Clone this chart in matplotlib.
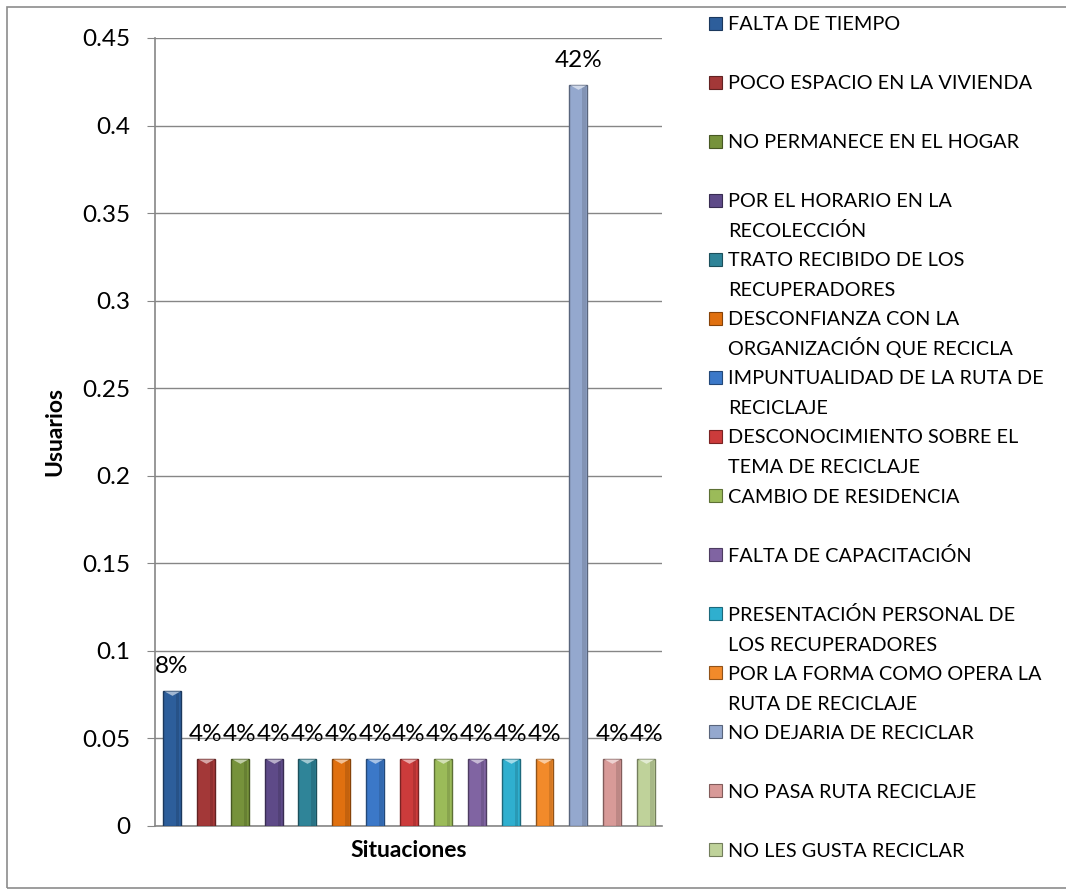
import matplotlib.pyplot as plt
from matplotlib.patches import Rectangle
from matplotlib.path import Path
from matplotlib.colors import to_rgb

plt.rcParams['font.family'] = ['Lato', 'DejaVu Sans']

# datos: usuarios por situacion (n = 26)
situaciones = ["FALTA DE TIEMPO", "POCO ESPACIO EN LA VIVIENDA", "NO PERMANECE EN EL HOGAR",
               "POR EL HORARIO EN LA\nRECOLECCIÓN", "TRATO RECIBIDO DE LOS\nRECUPERADORES",
               "DESCONFIANZA CON LA\nORGANIZACIÓN QUE RECICLA", "IMPUNTUALIDAD DE LA RUTA DE\nRECICLAJE",
               "DESCONOCIMIENTO SOBRE EL\nTEMA DE RECICLAJE", "CAMBIO DE RESIDENCIA",
               "FALTA DE CAPACITACIÓN", "PRESENTACIÓN PERSONAL DE\nLOS RECUPERADORES",
               "POR LA FORMA COMO OPERA LA\nRUTA DE RECICLAJE", "NO DEJARIA DE RECICLAR",
               "NO PASA RUTA RECICLAJE", "NO LES GUSTA RECICLAR"]
usuarios = [0.0769, 0.0385, 0.0385, 0.0385, 0.0385, 0.0385, 0.0385, 0.0385,
            0.0385, 0.0385, 0.0385, 0.0385, 0.4231, 0.0385, 0.0385]
etiquetas = ["8%", "4%", "4%", "4%", "4%", "4%", "4%", "4%", "4%", "4%", "4%", "4%", "42%", "4%", "4%"]
colores = ["#2D5E9B", "#A33838", "#76923B", "#5E4A88", "#2F8498", "#E0700F", "#3B78C8",
           "#CC3B3B", "#9BBB59", "#8064A2", "#2FAFCF", "#F28A2A", "#94A8CE", "#D89A98", "#BFD29A"]
y_ticks = [0, 0.05, 0.1, 0.15, 0.2, 0.25, 0.3, 0.35, 0.4, 0.45]
y_labels = ["0", "0.05", "0.1", "0.15", "0.2", "0.25", "0.3", "0.35", "0.4", "0.45"]


def oscurecer(c, f=0.6):
    r, g, b = to_rgb(c)
    return (r * f, g * f, b * f)


def aclarar(c, f=0.55):
    r, g, b = to_rgb(c)
    return (r + (1 - r) * f, g + (1 - g) * f, b + (1 - b) * f)


W, H = 1066, 893
fig = plt.figure(figsize=(W / 100, H / 100), dpi=100)
ax = fig.add_axes([155 / W, 67 / H, 507 / W, 788 / H])

x = list(range(len(usuarios)))
ax.bar(x, usuarios, width=0.53, color=colores,
       edgecolor=[oscurecer(c) for c in colores], linewidth=1, zorder=3)
# sombra lateral para dar algo de volumen
ax.bar([xi + 0.17 for xi in x], usuarios, width=0.1, color='black', alpha=0.12,
       linewidth=0, zorder=3.5)

# brillo triangular en la parte superior de cada barra
tri = Path([(-1, 0), (1, 0), (0, -0.55), (-1, 0)], [Path.MOVETO, Path.LINETO, Path.LINETO, Path.CLOSEPOLY])
for xi, v, c in zip(x, usuarios, colores):
    ax.scatter([xi], [v], marker=tri, s=130, color=aclarar(c), linewidths=0, zorder=4)

for xi, v, t in zip(x, usuarios, etiquetas):
    ax.annotate(t, (xi, v), xytext=(0, 10), textcoords='offset points',
                ha='center', va='bottom', fontsize=17.5)

ax.set_xlim(-0.5, 14.47)
ax.set_ylim(0, 0.45)
ax.set_yticks(y_ticks)
ax.set_yticklabels(y_labels)
ax.set_xticks([])
ax.tick_params(axis='y', labelsize=17.5, length=6, color='#868686', pad=12)
ax.grid(axis='y', color='#868686', linewidth=1, zorder=0)
ax.set_axisbelow(True)
for s in ['top', 'right']:
    ax.spines[s].set_visible(False)
for s in ['left', 'bottom']:
    ax.spines[s].set_color('#868686')
    ax.spines[s].set_linewidth(1.2)

ax.set_ylabel("Usuarios", fontsize=16.5, fontweight='bold', labelpad=12)
ax.set_xlabel("Situaciones", fontsize=16.5, fontweight='bold', labelpad=10)

# leyenda dibujada a mano (espaciado uniforme como en Excel)
paso = 59.07
for i, (lab, c) in enumerate(zip(situaciones, colores)):
    yc = 23 + i * paso
    fig.add_artist(Rectangle((709 / W, 1 - (yc + 6.5) / H), 13 / W, 13 / H,
                             facecolor=c, edgecolor=oscurecer(c), linewidth=0.8,
                             transform=fig.transFigure))
    for j, linea in enumerate(lab.split("\n")):
        fig.text(728 / W, 1 - (yc + 7 + 30 * j) / H, linea, fontsize=14.3,
                 va='baseline', ha='left')

# borde del area del grafico
fig.add_artist(Rectangle((7 / W, 5 / H), 1.0, 1 - 12 / H, fill=False,
                         edgecolor='#8C8C8C', linewidth=1.2, transform=fig.transFigure))

fig.savefig("out.png", dpi=100)
